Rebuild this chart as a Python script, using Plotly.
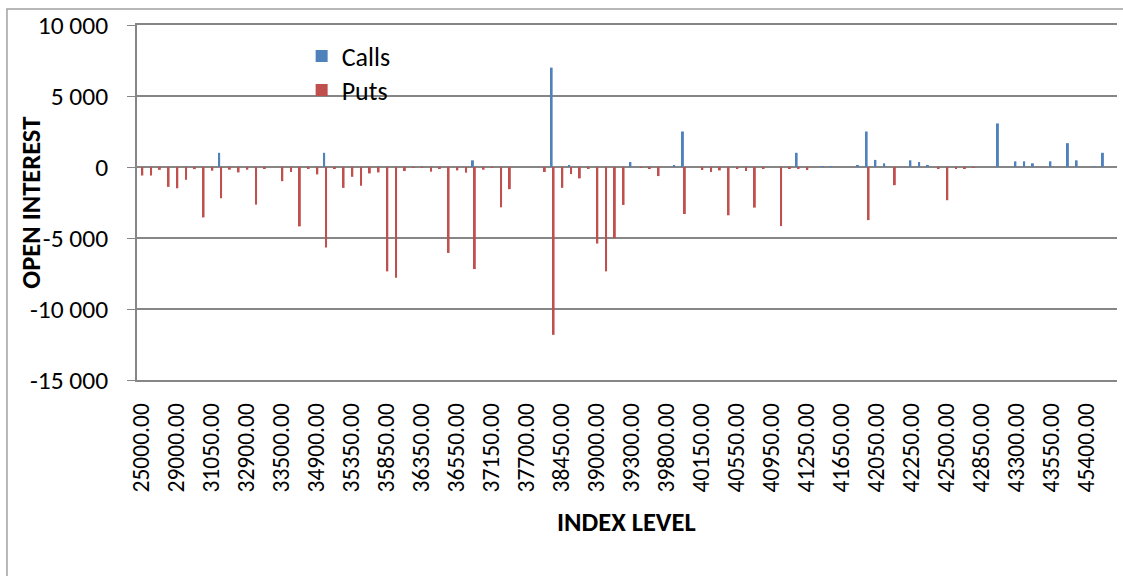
import plotly.graph_objects as go

# ── Strike levels (category axis; every 4th one is labelled) ─────────────────
strikes = [
    25000, 26000, 27000, 28000, 29000, 29500, 30000, 30500,
    31050, 31500, 32000, 32500, 32900, 33000, 33200, 33400,
    33500, 34000, 34500, 34800, 34900, 35000, 35100, 35200,
    35350, 35500, 35600, 35700, 35850, 35900, 36000, 36200,
    36350, 36400, 36450, 36500, 36550, 36600, 36800, 37000,
    37150, 37200, 37400, 37500, 37700, 37800, 38000, 38400,
    38450, 38500, 38800, 38900, 39000, 39100, 39150, 39200,
    39300, 39400, 39500, 39700, 39800, 39900, 40000, 40100,
    40150, 40200, 40350, 40500, 40550, 40700, 40800, 40900,
    40950, 41000, 41100, 41200, 41250, 41350, 41450, 41550,
    41650, 41750, 41850, 41950, 42050, 42100, 42150, 42200,
    42250, 42300, 42350, 42450, 42500, 42600, 42700, 42800,
    42850, 42900, 43000, 43200, 43300, 43350, 43400, 43450,
    43550, 43650, 44000, 44500, 45400, 45500, 46000, 47000,
]
categories = [f"{s:.2f}" for s in strikes]

calls = [
    0, 0, 0, 0, 0, 0, 0, 0, 0, 1000, 0, 0, 0, 0, 0, 0,
    0, 0, 0, 0, 0, 1000, 0, 0, 0, 0, 0, 0, 0, 0, 0, 0,
    0, 0, 0, 0, 0, 0, 470, 0, 0, 0, 0, 0, 0, 0, 0, 7000,
    0, 80, 0, 0, 0, 0, 0, 0, 350, 0, 0, 0, 0, 80, 2500, 0,
    0, 0, 0, 0, 0, 0, 0, 0, 0, 0, 0, 1000, 0, 0, 60, 70,
    0, 0, 120, 2500, 500, 260, 0, 0, 470, 350, 80, 0, 0, 0, 0, 0,
    0, 0, 3070, 0, 400, 400, 260, 0, 400, 0, 1680, 470, 0, 70, 1000, 0,
]

puts = [
    -600, -600, -200, -1400, -1500, -900, -150, -3550,
    -260, -2200, -190, -380, -190, -2650, -140, 0,
    -1000, -350, -4180, -140, -520, -5670, -80, -1470,
    -690, -1320, -450, -380, -7350, -7800, -280, -50,
    -60, -330, -140, -6050, -240, -400, -7190, -190,
    -50, -2840, -1560, 0, 0, 0, -350, -11820,
    -1470, -500, -800, -140, -5390, -7350, -5010, -2670,
    0, -30, -100, -640, 0, 0, -3310, 0,
    -210, -350, -240, -3400, -140, -280, -2860, -100,
    0, -4160, -140, -130, -210, 0, 0, 0,
    0, 0, 0, -3740, 0, 0, -1280, 0,
    0, 0, 0, -140, -2340, -140, -130, -40,
    0, 0, 0, 0, 0, 0, 0, 0,
    0, 0, 0, 0, 0, 0, 0, 0,
]

y_ticks = [-15000, -10000, -5000, 0, 5000, 10000]
y_tick_text = ["-15 000", "-10 000", "-5 000", "0", "5 000", "10 000"]

_C = {
    "calls": "#4F81BD",
    "puts": "#C0504D",
    "grid": "#868686",
    "text": "#000000",
}
FONT = "Carlito, Calibri, 'Open Sans', sans-serif"

fig = go.Figure()
fig.add_trace(go.Bar(x=categories, y=calls, name="Calls", marker_color=_C["calls"],
                     marker_line_width=0, legend="legend"))
fig.add_trace(go.Bar(x=categories, y=puts, name="Puts", marker_color=_C["puts"],
                     marker_line_width=0, legend="legend2"))

# one legend box per series so the entries can sit exactly where Excel put them
_leg = dict(xanchor="left", yanchor="middle", bgcolor="rgba(0,0,0,0)",
            font=dict(size=26), itemwidth=30)

fig.update_layout(
    width=1123, height=576,
    barmode="group",
    bargap=0.56,
    bargroupgap=0.0,
    plot_bgcolor="#FFFFFF",
    paper_bgcolor="#FFFFFF",
    font=dict(family=FONT, size=25, color=_C["text"]),
    margin=dict(l=137, r=6, t=25, b=196),
    showlegend=True,
    legend=dict(x=0.168, y=(380 - 56) / 355, **_leg),
    legend2=dict(x=0.168, y=(380 - 90) / 355, **_leg),
    xaxis=dict(
        type="category",
        tickmode="array",
        tickvals=categories[::4],
        ticktext=categories[::4],
        tickangle=-90,
        showgrid=False,
        showline=True, mirror=True,
        linecolor=_C["grid"], linewidth=1.5,
        ticks="", ticklabelstandoff=12,
        tickfont=dict(size=23.5),
    ),
    yaxis=dict(
        range=[-15000, 10000],
        tickmode="array",
        tickvals=y_ticks,
        ticktext=y_tick_text,
        showgrid=True, gridcolor=_C["grid"], gridwidth=1.5,
        zeroline=True, zerolinecolor=_C["grid"], zerolinewidth=1.5,
        showline=True, linecolor=_C["grid"], linewidth=1.5,
        ticks="outside", ticklen=8, tickcolor=_C["grid"],
        ticklabelstandoff=14,
        tickfont=dict(size=25.5),
    ),
    annotations=[
        dict(text="<b>OPEN INTEREST</b>", textangle=-90, x=-0.109, y=0.5,
             xanchor="center", yanchor="middle",
             xref="paper", yref="paper", showarrow=False, font=dict(size=26.5)),
        dict(text="<b>INDEX LEVEL</b>", x=0.499, y=(380 - 522) / 355,
             xanchor="center", yanchor="middle",
             xref="paper", yref="paper", showarrow=False, font=dict(size=26.5)),
    ],
    shapes=[
        dict(type="rect", xref="paper", yref="paper",
             x0=-0.1327, x1=1.02, y0=-0.6, y1=1.045,
             line=dict(color="#A0A0A0", width=1.5), fillcolor="rgba(0,0,0,0)",
             layer="below"),
    ],
)

# the page body has an 8px default margin; drop it so the figure fills the window
fig.write_html(
    "out.html",
    config={"displayModeBar": False},
    post_script="document.body.style.margin='0';document.body.style.overflow='hidden';",
)
